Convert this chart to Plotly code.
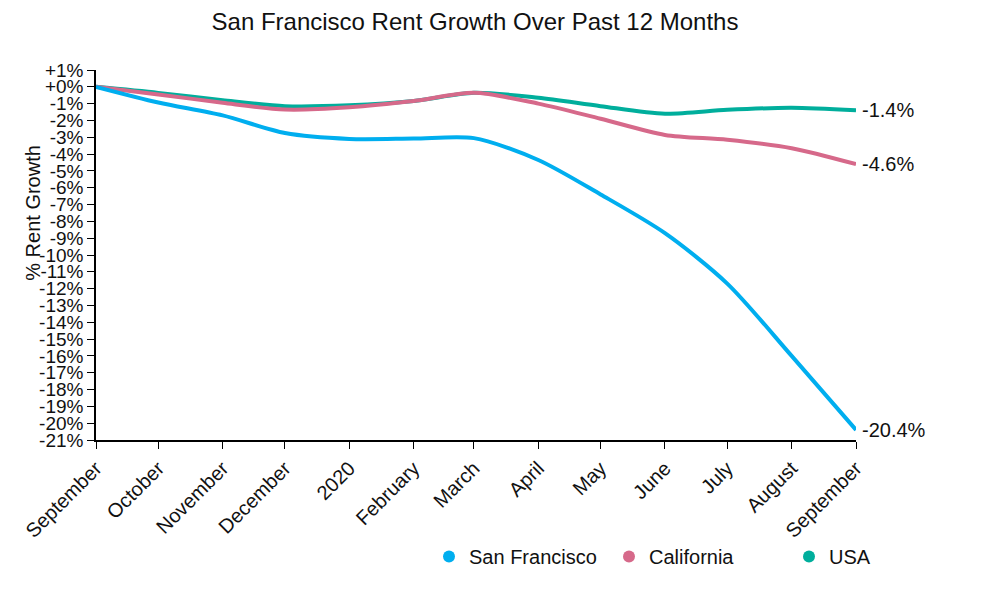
import plotly.graph_objects as go

dates = ["2019-09-01", "2019-10-01", "2019-11-01", "2019-12-01", "2020-01-01", "2020-02-01",
         "2020-03-01", "2020-04-01", "2020-05-01", "2020-06-01", "2020-07-01", "2020-08-01", "2020-09-01"]
month_labels = ["September", "October", "November", "December", "2020", "February",
                "March", "April", "May", "June", "July", "August", "September"]

sf = [0, -0.93, -1.7, -2.75, -3.1, -3.08, -3.05, -4.35, -6.4, -8.7, -11.7, -16.0, -20.4]
ca = [0, -0.45, -0.95, -1.35, -1.22, -0.85, -0.36, -1.0, -1.9, -2.86, -3.15, -3.65, -4.6]
usa = [0, -0.36, -0.8, -1.15, -1.1, -0.85, -0.36, -0.65, -1.15, -1.6, -1.37, -1.25, -1.4]

series_names = ["San Francisco", "California", "USA"]
series_colors = ["#00AEEF", "#D6698A", "#00AE9C"]
end_labels = ["-20.4%", "-4.6%", "-1.4%"]

y_ticks = list(range(1, -22, -1))
y_ticktext = ["+1%", "+0%"] + [f"{v}%" for v in y_ticks[2:]]

FONT = "Liberation Sans, Arial, sans-serif"

fig = go.Figure()
for name, vals, col in [("USA", usa, series_colors[2]), ("California", ca, series_colors[1]),
                        ("San Francisco", sf, series_colors[0])]:
    fig.add_trace(go.Scatter(x=dates, y=vals, mode="lines", name=name,
                             line=dict(color=col, width=4, shape="spline", smoothing=0.8),
                             showlegend=False, hoverinfo="skip"))

for name, col in zip(series_names, series_colors):
    fig.add_trace(go.Scatter(x=[None], y=[None], mode="markers", name=name,
                             marker=dict(color=col, size=12, symbol="circle"),
                             showlegend=True))

for vals, lab in zip([sf, ca, usa], end_labels):
    fig.add_annotation(x=dates[-1], y=vals[-1], text=lab, showarrow=False,
                       xanchor="left", yanchor="middle", xshift=4,
                       font=dict(family=FONT, size=20, color="#111"))

fig.add_annotation(xref="paper", yref="paper", x=-0.083, y=0.614, text="% Rent Growth",
                   textangle=-90, showarrow=False, xanchor="center", yanchor="middle",
                   font=dict(family=FONT, size=20, color="#111"))

fig.update_layout(
    width=1000, height=593,
    plot_bgcolor="white", paper_bgcolor="white",
    margin=dict(l=88, r=152, t=62, b=161, autoexpand=False),
    title=dict(text="San Francisco Rent Growth Over Past 12 Months", x=0.467, xanchor="center",
               xref="container", yref="container",
               y=1 - 14 / 593, yanchor="middle", font=dict(family=FONT, size=24, color="#111")),
    font=dict(family=FONT, size=16, color="#111"),
    showlegend=True,
    legend=dict(orientation="h", xref="container", yref="container",
                x=0.421, y=1 - 529 / 593, xanchor="left", yanchor="top",
                font=dict(family=FONT, size=20, color="#111"),
                entrywidth=135, entrywidthmode="pixels", itemsizing="constant"),
)
fig.update_xaxes(type="date", range=[dates[0], dates[-1]], tickvals=dates, ticktext=month_labels,
                 tickangle=-45, showline=True, linecolor="black", linewidth=1.5,
                 ticks="outside", ticklen=7, tickcolor="black", showgrid=False, zeroline=False,
                 automargin=False, tickfont=dict(family=FONT, size=20, color="#111"))
fig.update_yaxes(range=[-21, 1], tickvals=y_ticks, ticktext=y_ticktext,
                 showline=True, linecolor="black", linewidth=1.5,
                 ticks="outside", ticklen=7, tickcolor="black", showgrid=False, zeroline=False,
                 automargin=False, tickfont=dict(family=FONT, size=19, color="#111"))

fig.write_html("out.html")
